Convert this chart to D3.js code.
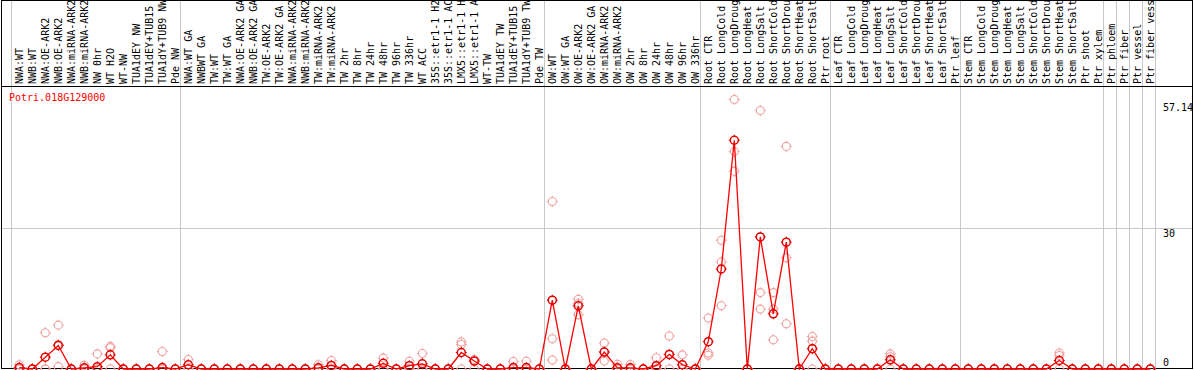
<!DOCTYPE html>
<html>
<head>
<meta charset="utf-8">
<script src="https://cdn.jsdelivr.net/npm/d3@7"></script>
<style>
body { margin: 0; background: #fff; }
svg { display: block; }
text { font-family: "DejaVu Sans Mono", monospace; font-size: 10px; }
</style>
</head>
<body>
<svg id="chart" width="1194" height="370"></svg>
<script>
var gene = "Potri.018G129000";

var labels = [
    "NWA:WT", "NWB:WT", "NWA:OE-ARK2", "NWB:OE-ARK2", "NWA:miRNA-ARK2", "NWB:miRNA-ARK2",
    "NW 0hr", "WT H2O", "WT-NW", "TUA1dEY NW", "TUA1dEY+TUB15 NW", "TUA1dY+TUB9 NW", "Pde NW",
    "NWA:WT GA", "NWBWT GA", "TW:WT", "TW:WT GA", "NWA:OE-ARK2 GA", "NWB:OE-ARK2 GA",
    "TW:OE-ARK2", "TW:OE-ARK2 GA", "NWA:miRNA-ARK2", "NWB:miRNA-ARK2", "TW:miRNA-ARK2",
    "TW:miRNA-ARK2", "TW 2hr", "TW 8hr", "TW 24hr", "TW 48hr", "TW 96hr", "TW 336hr",
    "WT ACC", "35S::etr1-1 H2O", "35S::etr1-1 ACC", "LMX5::etr1-1 H2O", "LMX5::etr1-1 ACC",
    "WT-TW", "TUA1dEY TW", "TUA1dEY+TUB15 TW", "TUA1dY+TUB9 TW", "Pde TW",
    "OW:WT", "OW:WT GA", "OW:OE-ARK2", "OW:OE-ARK2 GA", "OW:miRNA-ARK2", "OW:miRNA-ARK2",
    "OW 2hr", "OW 8hr", "OW 24hr", "OW 48hr", "OW 96hr", "OW 336hr",
    "Root CTR", "Root LongCold", "Root LongDrought", "Root LongHeat", "Root LongSalt",
    "Root ShortCold", "Root ShortDrought", "Root ShortHeat", "Root ShortSalt", "Ptr root",
    "Leaf CTR", "Leaf LongCold", "Leaf LongDrought", "Leaf LongHeat", "Leaf LongSalt",
    "Leaf ShortCold", "Leaf ShortDrought", "Leaf ShortHeat", "Leaf ShortSalt", "Ptr leaf",
    "Stem CTR", "Stem LongCold", "Stem LongDrought", "Stem LongHeat", "Stem LongSalt",
    "Stem ShortCold", "Stem ShortDrought", "Stem ShortHeat", "Stem ShortSalt", "Ptr shoot", "Ptr xylem",
    "Ptr phloem", "Ptr fiber", "Ptr vessel", "Ptr fiber vessel"
];

// first column of every block, plus the end
var groupStarts = [0, 13, 41, 53, 63, 73, 84, 85, 86, 87, 88];

var means = [
    0.3, 0, 2.5, 5.0, 0, 0.25, 0.5, 3.0, 0, 0, 0, 0.3, 0,
    0.9, 0, 0, 0, 0, 0, 0, 0, 0, 0, 0.25, 0.75, 0, 0, 0, 1.2, 0, 0.7, 1.1, 0, 0, 3.5, 1.7, 0, 0, 0.3, 0.3, 0,
    14.6, 0, 13.4, 0, 3.6, 0.25, 0.25, 0, 0.7, 3.1, 0.9, 0,
    5.8, 21.2, 48.5, 0, 28.0, 11.7, 26.9, 0, 4.3, 0,
    0, 0, 0, 0, 1.95, 0, 0, 0, 0, 0,
    0, 0, 0, 0, 0, 0, 0, 1.8, 0, 0, 0,
    0, 0, 0, 0
];

var rep1 = [
    0.9, 0, 7.7, 9.3, 0, 0.8, 3.2, 4.8, 0, 0, 0, 3.7, 0,
    2.0, 0, 0, 0, 0, 0, 0, 0, 0, 0, 0.9, 1.8, 0, 0, 0, 2.3, 0, 1.65, 3.3, 0, 0, 5.75, 2.0, 0, 0, 1.6, 1.65, 0,
    35.5, 0, 14.8, 0, 5.5, 1.0, 0.95, 0, 2.4, 7.0, 3.0, 0,
    10.8, 27.3, 57.14, 0, 54.8, 16.2, 47.2, 0, 6.9, 0,
    0, 0, 0, 0, 3.2, 0, 0, 0, 0, 0,
    0, 0, 0, 0, 0, 0, 0, 3.4, 0, 0, 0,
    0, 0, 0, 0
];

var rep2 = [
    0, 0, 0, 5.2, 0, 0, 0, 4.5, 0, 0, 0, 0, 0,
    0, 0, 0, 0, 0, 0, 0, 0, 0, 0, 0, 0, 0, 0, 0, 0, 0, 0, 0, 0, 0, 5.2, 1.6, 0, 0, 0, 0, 0,
    6.4, 0, 13.9, 0, 3.6, 0, 0, 0, 0, 3.1, 0, 0,
    3.4, 22.7, 46.1, 0, 16.2, 12.7, 23.6, 0, 5.9, 0,
    0, 0, 0, 0, 2.6, 0, 0, 0, 0, 0,
    0, 0, 0, 0, 0, 0, 0, 2.85, 0, 0, 0,
    0, 0, 0, 0
];

var rep3 = [
    0, 0, 0, 0.5, 0, 0, 0, 0, 0, 0, 0, 0, 0,
    0, 0, 0, 0, 0, 0, 0, 0, 0, 0, 0, 0, 0, 0, 0, 0, 0, 0, 0, 0, 0, 0, 0, 0, 0, 0, 0, 0,
    1.9, 0, 11.5, 0, 1.7, 0, 0, 0, 0, 0, 0, 0,
    2.9, 13.4, 41.9, 0, 12.7, 6.2, 9.6, 0, 0, 0,
    0, 0, 0, 0, 0, 0, 0, 0, 0, 0,
    0, 0, 0, 0, 0, 0, 0, 0, 0, 0, 0,
    0, 0, 0, 0
];

var yMax = 57.14;
var yTicks = [0, 30, 57.14];

var svg = d3.select("#chart");

var x = d3.scaleLinear().domain([0, labels.length - 1]).range([19.3, 1150.3]);
var y = d3.scaleLinear().domain([0, yMax]).range([369, 99.5]);

// grid
svg.append("g").selectAll("line")
    .data(groupStarts)
    .enter().append("line")
    .attr("x1", function (k) { return Math.floor(x(k) - 8) + 0.5; })
    .attr("x2", function (k) { return Math.floor(x(k) - 8) + 0.5; })
    .attr("y1", 0)
    .attr("y2", 369)
    .attr("stroke", "#c8c8c8");

svg.append("line")
    .attr("x1", 1).attr("x2", 1192)
    .attr("y1", Math.round(y(30)) + 0.5).attr("y2", Math.round(y(30)) + 0.5)
    .attr("stroke", "#c8c8c8");

// frame + header rule
svg.append("rect")
    .attr("x", 1.5).attr("y", 0.5)
    .attr("width", 1191).attr("height", 368)
    .attr("fill", "none")
    .attr("stroke", "#000");

svg.append("line")
    .attr("x1", 1).attr("x2", 1193)
    .attr("y1", 86.5).attr("y2", 86.5)
    .attr("stroke", "#000");

// column labels
svg.append("g").selectAll("text")
    .data(labels)
    .enter().append("text")
    .attr("transform", function (d, i) { return "translate(" + (x(i) + 3.3) + ",84) rotate(-90)"; })
    .attr("fill", "#000")
    .text(function (d) { return d; });

svg.append("text")
    .attr("x", 9).attr("y", 101)
    .attr("fill", "#ff0000")
    .text(gene);

// y labels
svg.append("g").selectAll("text")
    .data(yTicks)
    .enter().append("text")
    .attr("x", 1163)
    .attr("y", function (v) {
        if (v === 0) return y(v) - 3.5;
        if (v === yMax) return y(v) + 11.5;
        return y(v) + 9;
    })
    .attr("fill", "#000")
    .text(function (v) { return v; });

var marker = function (sel, color, width) {
    sel.append("circle")
        .attr("r", 4)
        .attr("fill", "none")
        .attr("stroke", color)
        .attr("stroke-width", width);
    sel.append("path")
        .attr("d", "M0,-4V-5.5M0,4V5.5M-4,0H-5.5M4,0H5.5")
        .attr("stroke", color)
        .attr("stroke-width", 1);
};

// replicates
[rep1, rep2, rep3].forEach(function (r) {
    svg.append("g").selectAll("g")
        .data(r)
        .enter().append("g")
        .attr("transform", function (v, i) { return "translate(" + x(i) + "," + y(v) + ")"; })
        .call(marker, "#f0a0a0", 1.1);
});

svg.append("path")
    .datum(means)
    .attr("fill", "none")
    .attr("stroke", "#ff0000")
    .attr("stroke-width", 1.3)
    .attr("d", d3.line().x(function (v, i) { return x(i); }).y(function (v) { return y(v); }));

svg.append("g").selectAll("g")
    .data(means)
    .enter().append("g")
    .attr("transform", function (v, i) { return "translate(" + x(i) + "," + y(v) + ")"; })
    .call(marker, "#e00000", 1.5);
</script>
</body>
</html>
